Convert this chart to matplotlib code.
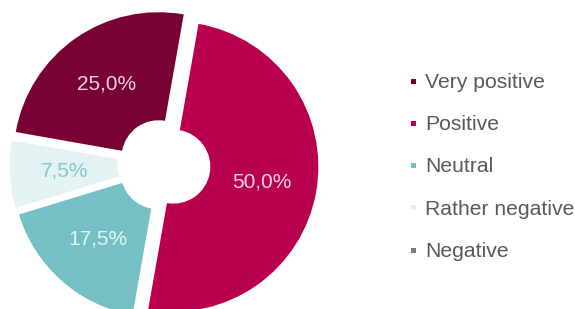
import matplotlib
matplotlib.use("Agg")
import matplotlib.pyplot as plt
from matplotlib.lines import Line2D

categories = ["Very positive", "Positive", "Neutral", "Rather negative", "Negative"]
values = [25.0, 50.0, 17.5, 7.5, 0.0]
colors = ["#780032", "#B9004F", "#74C0C4", "#E3F2F3", "#7F7F7F"]
label_colors = ["#F2D3E0", "#F6D6E2", "#E9F6F6", "#8CC4C8", "#FFFFFF"]

plt.rcParams['font.family'] = ['Liberation Sans', 'DejaVu Sans']

W, H = 575, 309
fig = plt.figure(figsize=(W / 100, H / 100), dpi=100)
ax = fig.add_axes([0, 0, 1, 1])

R = 145.0
cx, cy = 164.0, H - 165.0
explode_px = 9.5


def fmt(p):
    if p <= 0.001:
        return ""
    return f"{p:.1f}%".replace(".", ",")


wedges, texts, autotexts = ax.pie(
    values, colors=colors, startangle=170, counterclock=False,
    radius=R, center=(cx, cy), explode=[explode_px] * len(values),
    autopct=fmt, pctdistance=0.62,
    wedgeprops=dict(width=R * 0.745, linewidth=0),
    textprops=dict(fontsize=15),
)
for t, c in zip(autotexts, label_colors):
    t.set_color(c)

ax.set_xlim(0, W)
ax.set_ylim(0, H)
ax.set_aspect('equal')
ax.axis('off')

handles = [Line2D([], [], marker='s', linestyle='', markersize=3.6, color=c,
                  markeredgewidth=0) for c in colors]
leg = fig.legend(handles, categories, loc='upper left',
                 bbox_to_anchor=(408 / W, 1 - 73 / H), frameon=False,
                 fontsize=15.2, labelcolor='#595959', handlelength=0.5,
                 handletextpad=0.3, labelspacing=1.1, borderpad=0,
                 borderaxespad=0)

fig.savefig("out.png", dpi=100)
